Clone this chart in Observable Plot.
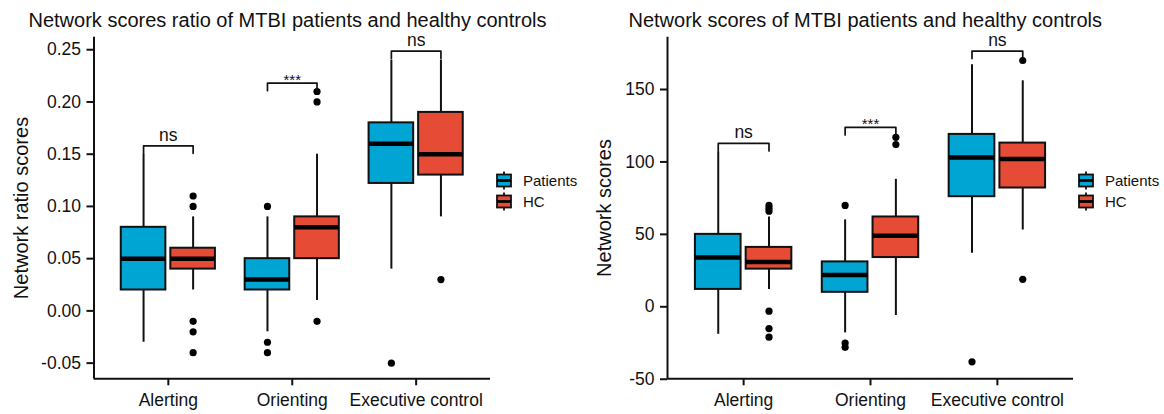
<!DOCTYPE html>
<html><head><meta charset="utf-8">
<script src="https://cdn.jsdelivr.net/npm/d3@7"></script>
<script src="https://cdn.jsdelivr.net/npm/@observablehq/plot@0.6"></script>
<style>
body{margin:0;background:#fff;font-family:"Liberation Sans",Arial,sans-serif;color:#000;}
#wrap{position:relative;width:1164px;height:414px;overflow:hidden;background:#fff;}
.panel{position:absolute;top:0;height:414px;}
.panel svg{position:absolute;left:0;top:0;}
.title{position:absolute;top:10px;font-size:20px;line-height:1;white-space:nowrap;color:#111;}
.ylab{position:absolute;font-size:20px;line-height:1;white-space:nowrap;transform:translate(-50%,-50%) rotate(-90deg);color:#111;}
.legend{position:absolute;font-size:15px;line-height:1;color:#111;}
.legrow{position:absolute;left:0;display:flex;align-items:center;white-space:nowrap;}
.legrow svg{position:static;}
</style></head><body><div id="wrap"></div>
<script>
// ---------- data ----------
const networks = ["Alerting", "Orienting", "Executive control"];
const groups = ["Patients", "HC"];
const groupColors = ["#00A5D4", "#E64B35"];
const sigLabels = ["ns", "***", "ns"];

// box order: Alerting-Patients, Alerting-HC, Orienting-Patients, Orienting-HC, Executive-Patients, Executive-HC
const ratioLow      = [-0.03, 0.02, -0.02, 0.01, 0.04, 0.09];
const ratioQ1       = [0.02, 0.04, 0.02, 0.05, 0.122, 0.13];
const ratioMedian   = [0.05, 0.05, 0.03, 0.08, 0.16, 0.15];
const ratioQ3       = [0.08, 0.06, 0.05, 0.09, 0.18, 0.19];
const ratioHigh     = [0.15, 0.09, 0.09, 0.15, 0.24, 0.24];
const ratioOutliers = [[], [0.11, 0.10, -0.01, -0.02, -0.04], [0.10, -0.03, -0.04], [0.21, 0.20, -0.01], [-0.05], [0.03]];
const ratioSigY     = [0.158, 0.218, 0.2487];
const ratioTicks    = [-0.05, 0, 0.05, 0.10, 0.15, 0.20, 0.25];
const ratioDomain   = [-0.065, 0.262];

const scoreLow      = [-19, 12, -18, -6, 37, 53];
const scoreQ1       = [12, 26, 10, 34, 76, 82];
const scoreMedian   = [34, 31, 22, 49, 103, 102];
const scoreQ3       = [50, 41, 31, 62, 119, 113];
const scoreHigh     = [107, 62, 60, 88, 167, 156];
const scoreOutliers = [[], [70, 68, 66, -3, -15, -21], [70, -25, -28], [117, 112], [-38], [170, 19]];
const scoreSigY     = [112.8, 123.8, 176.5];
const scoreTicks    = [-50, 0, 50, 100, 150];
const scoreDomain   = [-49.7, 186.1];

// ---------- helpers ----------
const DODGE = 0.2, HALF = 0.18;
function boxTable(low, q1, med, q3, high) {
  return low.map((_, k) => ({
    network: networks[Math.floor(k / 2)],
    group: groups[k % 2],
    pos: Math.floor(k / 2) + 1 + (k % 2 ? DODGE : -DODGE),
    low: low[k], q1: q1[k], med: med[k], q3: q3[k], high: high[k]
  }));
}
function outlierTable(outs, boxes) {
  return outs.flatMap((vals, k) => vals.map(v => ({pos: boxes[k].pos, value: v})));
}
function bracketTable(sigY, tip) {
  return sigY.flatMap((y, i) => {
    const c = i + 1;
    return [
      {id: i, x: c - DODGE, y: y - tip},
      {id: i, x: c - DODGE, y: y},
      {id: i, x: c + DODGE, y: y},
      {id: i, x: c + DODGE, y: y - tip}
    ];
  });
}

function panel({left, width, marginLeft, plotWidth, title, titleLeft, ylab, ylabX, yDomain, yTicks, yFormat,
                low, q1, med, q3, high, outs, sigY, legendLeft}) {
  const wrap = document.getElementById("wrap");
  const div = document.createElement("div");
  div.className = "panel";
  div.style.left = left + "px";
  div.style.width = width + "px";
  wrap.appendChild(div);

  const boxes = boxTable(low, q1, med, q3, high);
  const outliers = outlierTable(outs, boxes);
  const span = yDomain[1] - yDomain[0];
  const tip = 0.022 * span;
  const brackets = bracketTable(sigY, tip);
  const sig = sigY.map((y, i) => ({pos: i + 1, y, label: sigLabels[i]}));
  const xDomain = [0.4, networks.length + 0.6];

  const svg = Plot.plot({
    width, height: 414,
    marginLeft, marginRight: width - marginLeft - plotWidth,
    marginTop: 36.7, marginBottom: 35.7,
    style: {fontFamily: "'Liberation Sans', Arial, sans-serif", fontSize: "17.5px", color: "#111", background: "transparent", overflow: "visible"},
    x: {domain: xDomain, axis: null},
    y: {domain: yDomain, axis: null},
    color: {domain: groups, range: groupColors},
    marks: [
      Plot.axisX({ticks: networks.map((_, i) => i + 1), tickFormat: i => networks[i - 1], tickSize: 7, tickPadding: 8, strokeWidth: 2, label: null}),
      Plot.axisY({ticks: yTicks, tickFormat: yFormat, tickSize: 7, tickPadding: 6, strokeWidth: 2, label: null}),
      Plot.ruleX([xDomain[0]], {stroke: "#111", strokeWidth: 2}),
      Plot.ruleY([yDomain[0]], {stroke: "#111", strokeWidth: 2}),
      Plot.ruleX(boxes, {x: "pos", y1: "low", y2: "q1", stroke: "#111", strokeWidth: 2}),
      Plot.ruleX(boxes, {x: "pos", y1: "q3", y2: "high", stroke: "#111", strokeWidth: 2}),
      Plot.rect(boxes, {x1: d => d.pos - HALF, x2: d => d.pos + HALF, y1: "q1", y2: "q3", fill: "group", stroke: "#111", strokeWidth: 2}),
      Plot.ruleY(boxes, {y: "med", x1: d => d.pos - HALF, x2: d => d.pos + HALF, stroke: "#000", strokeWidth: 4.5}),
      Plot.dot(outliers, {x: "pos", y: "value", r: 3.6, fill: "#000", stroke: null}),
      Plot.line(brackets, {x: "x", y: "y", z: "id", stroke: "#111", strokeWidth: 1.7, curve: "linear"}),
      Plot.text(sig.filter(d => d.label !== "***"), {x: "pos", y: "y", text: "label", lineAnchor: "bottom", dy: -5, fontSize: 17.5, fill: "#111"}),
      Plot.text(sig.filter(d => d.label === "***"), {x: "pos", y: "y", text: "label", lineAnchor: "bottom", dy: 2, fontSize: 15, fill: "#111"})
    ]
  });
  div.appendChild(svg);

  const t = document.createElement("div");
  t.className = "title";
  t.style.left = titleLeft + "px";
  t.textContent = title;
  div.appendChild(t);

  const yl = document.createElement("div");
  yl.className = "ylab";
  yl.style.left = ylabX + "px";
  yl.style.top = "207.5px";
  yl.textContent = ylab;
  div.appendChild(yl);

  const leg = document.createElement("div");
  leg.className = "legend";
  leg.style.left = legendLeft + "px";
  leg.style.top = "170px";
  div.appendChild(leg);
  groups.forEach((g, i) => {
    const row = document.createElement("div");
    row.className = "legrow";
    row.style.top = (i * 20.5) + "px";
    const s = d3.create("svg").attr("width", 20).attr("height", 21);
    s.append("line").attr("x1", 10).attr("x2", 10).attr("y1", 1.5).attr("y2", 19.5).attr("stroke", "#111").attr("stroke-width", 1.8);
    s.append("rect").attr("x", 3).attr("y", 4.5).attr("width", 14).attr("height", 12).attr("fill", groupColors[i]).attr("stroke", "#111").attr("stroke-width", 1.8);
    s.append("line").attr("x1", 3).attr("x2", 17).attr("y1", 10.5).attr("y2", 10.5).attr("stroke", "#000").attr("stroke-width", 2.8);
    row.appendChild(s.node());
    const lab = document.createElement("span");
    lab.textContent = g;
    lab.style.marginLeft = "9px";
    row.appendChild(lab);
    leg.appendChild(row);
  });
}

panel({
  left: 0, width: 580, marginLeft: 93.5, plotWidth: 396.5,
  title: "Network scores ratio of MTBI patients and healthy controls", titleLeft: 28.5,
  ylab: "Network ratio scores", ylabX: 20.5,
  yDomain: ratioDomain, yTicks: ratioTicks, yFormat: d => d.toFixed(2),
  low: ratioLow, q1: ratioQ1, med: ratioMedian, q3: ratioQ3, high: ratioHigh,
  outs: ratioOutliers, sigY: ratioSigY, legendLeft: 494
});
panel({
  left: 580, width: 584, marginLeft: 87, plotWidth: 406,
  title: "Network scores of MTBI patients and healthy controls", titleLeft: 48.5,
  ylab: "Network scores", ylabX: 23.5,
  yDomain: scoreDomain, yTicks: scoreTicks, yFormat: d => String(d),
  low: scoreLow, q1: scoreQ1, med: scoreMedian, q3: scoreQ3, high: scoreHigh,
  outs: scoreOutliers, sigY: scoreSigY, legendLeft: 496
});
</script>
</body></html>
